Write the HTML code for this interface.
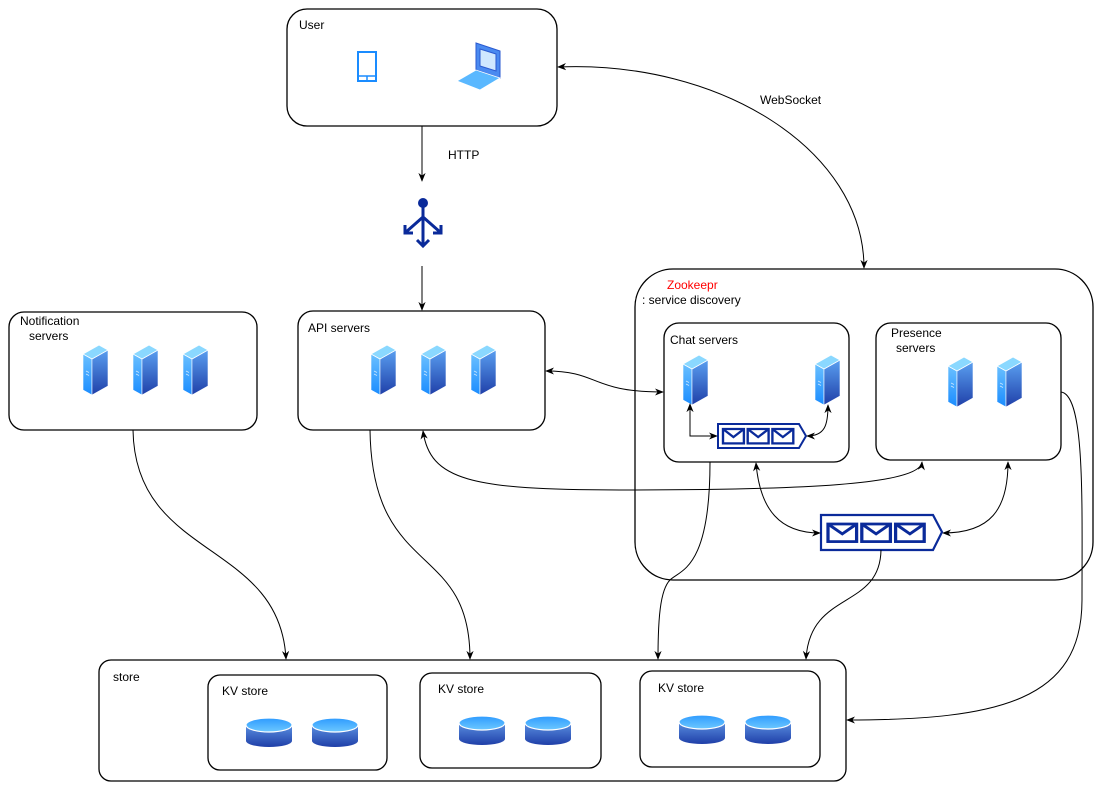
<!DOCTYPE html>
<html><head><meta charset="utf-8"><style>
html,body{margin:0;padding:0;background:#fff;}
svg{display:block;font-family:"Liberation Sans",Arial,sans-serif;font-size:12px;}
</style></head><body>
<svg width="1100" height="789" viewBox="0 0 1100 789" xmlns="http://www.w3.org/2000/svg">
<defs>
<linearGradient id="sf" x1="0" y1="0" x2="0" y2="1"><stop offset="0" stop-color="#5a9ff0"/><stop offset="1" stop-color="#1f3fa8"/></linearGradient>
<linearGradient id="sl" x1="0" y1="0" x2="0" y2="1"><stop offset="0" stop-color="#6ac0ff"/><stop offset="1" stop-color="#1a8cff"/></linearGradient>
<linearGradient id="dk" x1="0" y1="0" x2="0" y2="1"><stop offset="0" stop-color="#5a8fe0"/><stop offset="1" stop-color="#1f3fa8"/></linearGradient>
<linearGradient id="dt" x1="0" y1="0" x2="0" y2="1"><stop offset="0" stop-color="#2e9bff"/><stop offset="1" stop-color="#6cc8ff"/></linearGradient>
<g id="srv">
<polygon points="0,5 9,10 9,46 0,41" fill="url(#sl)" stroke="#fff" stroke-width="0.6"/>
<polygon points="9,10 25,1 25,37 9,46" fill="url(#sf)" stroke="#fff" stroke-width="0.6"/>
<polygon points="0,5 16,-4 25,1 9,10" fill="#8ad8ff" stroke="#fff" stroke-width="0.8"/>
<line x1="3" y1="22" x2="6" y2="23.5" stroke="#cfe8ff" stroke-width="0.7"/>
<line x1="3" y1="25" x2="6" y2="26.5" stroke="#cfe8ff" stroke-width="0.7"/>
</g>
<g id="disk">
<path d="M0,8 L0,24 A23,6 0 0 0 46,24 L46,8 Z" fill="url(#dk)"/>
<ellipse cx="23" cy="8" rx="23" ry="7" fill="url(#dt)" stroke="#fff" stroke-width="1.2"/>
</g>
<g id="env"><rect x="0" y="0" width="22" height="16" fill="#fff" stroke="#0a2a9a" stroke-width="2.5"/><polyline points="0,0 11,9 22,0" fill="none" stroke="#0a2a9a" stroke-width="2.5"/></g>
<marker id="a" viewBox="0 0 10 10" refX="9" refY="5" markerWidth="9" markerHeight="9" orient="auto-start-reverse"><path d="M0,1 L10,5 L0,9 L3,5 Z" fill="#000"/></marker>
</defs>

<g fill="none" stroke="#000" stroke-width="1.3">
<rect x="287" y="9" width="270" height="117" rx="20"/>
<rect x="9" y="312" width="248" height="118" rx="15"/>
<rect x="298" y="311" width="247" height="119" rx="15"/>
<rect x="635" y="269" width="458" height="311" rx="38"/>
<rect x="664" y="323" width="185" height="139" rx="15"/>
<rect x="876" y="323" width="185" height="137" rx="15"/>
<rect x="99" y="660" width="747" height="121" rx="12"/>
<rect x="208" y="675" width="179" height="95" rx="12"/>
<rect x="420" y="673" width="181" height="95" rx="12"/>
<rect x="640" y="671" width="180" height="96" rx="12"/>
</g>

<g font-size="12" fill="#000">
<text x="299" y="29">User</text>
<text x="448" y="159">HTTP</text>
<text x="760" y="104">WebSocket</text>
<text x="20" y="325">Notification</text>
<text x="29" y="340">servers</text>
<text x="308" y="332">API servers</text>
<text x="667" y="289" fill="#ff0000">Zookeepr</text>
<text x="642" y="304">: service discovery</text>
<text x="670" y="344">Chat servers</text>
<text x="891" y="337">Presence</text>
<text x="896" y="352">servers</text>
<text x="113" y="681">store</text>
<text x="222" y="695">KV store</text>
<text x="438" y="693">KV store</text>
<text x="658" y="692">KV store</text>
</g>

<!-- phone -->
<rect x="358" y="52" width="18" height="29" fill="none" stroke="#1a8cff" stroke-width="2"/>
<line x1="358" y1="76" x2="376" y2="76" stroke="#1a8cff" stroke-width="1.5"/>
<line x1="367" y1="76" x2="367" y2="81" stroke="#1a8cff" stroke-width="1.5"/>
<!-- laptop -->
<polygon points="476,43 500,51 500,78 476,70" fill="#4a8af0" stroke="#2a5ad0"/>
<polygon points="480,49 496,54 496,71 480,66" fill="#cfe8ff" stroke="#2a5ad0"/>
<polygon points="457,81 476,70 500,78 480,90" fill="#5ab8ff" stroke="#fff" stroke-width="0.8"/>
<!-- load balancer -->
<g stroke="#0a2a9a" stroke-width="3" fill="none">
<circle cx="423" cy="203" r="3.5" fill="#0a2a9a"/>
<line x1="423" y1="206" x2="423" y2="246"/>
<line x1="423" y1="217" x2="406" y2="232"/>
<line x1="423" y1="217" x2="440" y2="232"/>
<polyline points="405,225 405,233 413,233"/>
<polyline points="441,225 441,233 433,233"/>
<polyline points="417,240 423,246 429,240"/>
</g>

<!-- servers -->
<use href="#srv" x="83" y="349"/><use href="#srv" x="133" y="349"/><use href="#srv" x="183" y="349"/>
<use href="#srv" x="371" y="349"/><use href="#srv" x="421" y="349"/><use href="#srv" x="471" y="349"/>
<use href="#srv" x="683" y="359"/><use href="#srv" x="815" y="359"/>
<use href="#srv" x="948" y="361"/><use href="#srv" x="997" y="361"/>

<!-- disks -->
<use href="#disk" x="246" y="717"/><use href="#disk" x="312" y="717"/>
<use href="#disk" x="459" y="715"/><use href="#disk" x="525" y="715"/>
<use href="#disk" x="679" y="714"/><use href="#disk" x="745" y="714"/>

<!-- queues -->
<polygon points="718,424 799,424 806,436 799,448 718,448" fill="#fff" stroke="#0a2a9a" stroke-width="2"/>
<g transform="translate(723,429) scale(0.95,0.9)"><use href="#env"/><use href="#env" x="26"/><use href="#env" x="52"/></g>
<polygon points="821,515 933,515 942,532 933,550 821,550" fill="#fff" stroke="#0a2a9a" stroke-width="2.2"/>
<g transform="translate(828,524) scale(1.3,1.1)"><use href="#env"/><use href="#env" x="26"/><use href="#env" x="52"/></g>

<!-- connectors -->
<g fill="none" stroke="#000" stroke-width="1">
<path d="M422,126 L422,181" marker-end="url(#a)"/>
<path d="M422,266 L422,310" marker-end="url(#a)"/>
<path d="M558,67 C720,60 864,150 864,268" marker-start="url(#a)" marker-end="url(#a)"/>
<path d="M546,371 C600,371 590,392 663,392" marker-start="url(#a)" marker-end="url(#a)"/>
<path d="M423,431 C430,480 470,490 620,490 C800,490 920,485 922,462" marker-start="url(#a)" marker-end="url(#a)"/>
<path d="M690,404 L690,436 L717,436" marker-start="url(#a)" marker-end="url(#a)"/>
<path d="M807,436 C825,436 828,425 828,405" marker-start="url(#a)" marker-end="url(#a)"/>
<path d="M756,463 C760,510 780,533 820,533" marker-start="url(#a)" marker-end="url(#a)"/>
<path d="M943,533 C990,533 1008,510 1008,462" marker-start="url(#a)" marker-end="url(#a)"/>
<path d="M133,430 C135,560 280,540 286,659" marker-end="url(#a)"/>
<path d="M370,430 C372,580 470,540 470,659" marker-end="url(#a)"/>
<path d="M710,462 C710,570 680,570 670,580 C660,590 658,620 658,659" marker-end="url(#a)"/>
<path d="M881,550 C880,610 810,590 806,659" marker-end="url(#a)"/>
<path d="M1061,392 C1085,395 1082,500 1082,600 C1082,700 1000,720 847,720" marker-end="url(#a)"/>
</g>
</svg>
</body></html>
